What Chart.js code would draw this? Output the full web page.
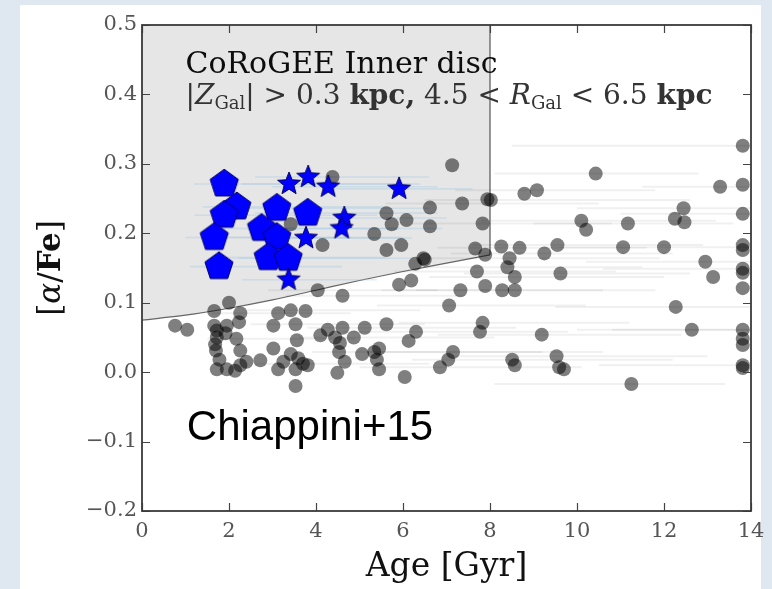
<!DOCTYPE html>
<html><head><meta charset="utf-8">
<script src="https://cdn.jsdelivr.net/npm/chart.js@4.4.1/dist/chart.umd.min.js"></script>
<style>
html,body{margin:0;padding:0;background:#dfe7f1;width:772px;height:589px;overflow:hidden}
#box{position:absolute;left:20px;top:5px;width:741px;height:584px;background:#fff}
canvas{display:block;position:absolute;left:0;top:0}
</style></head><body>
<div id="box"><canvas id="c" width="747" height="584"></canvas></div>
<script>
// ---------- data ----------
const xTickValues = [0, 2, 4, 6, 8, 10, 12, 14];
const xTickLabels = ['0', '2', '4', '6', '8', '10', '12', '14'];
const yTickValues = [-0.2, -0.1, 0.0, 0.1, 0.2, 0.3, 0.4, 0.5];
const yTickLabels = ['\u22120.2', '\u22120.1', '0.0', '0.1', '0.2', '0.3', '0.4', '0.5'];

// boundary of the shaded "inner disc" selection region
const regionAge     = [0, 1, 2, 3, 4, 5, 6, 7, 8];
const regionAlphaFe = [0.075, 0.082, 0.092, 0.104, 0.118, 0.132, 0.145, 0.157, 0.169];

// CoRoGEE stars (grey circles)
const grayAge = [7.13,10.43,13.81,13.81,13.29,4.38,9.08,8.79,7.94,8.02,7.36,6.62,5.62,6.08,5.74,5.34,6.62,7.83,
  13.81,12.45,12.25,12.47,10.10,10.21,11.17,13.81,13.81,12.00,11.06,9.55,9.25,8.68,8.26,7.89,7.66,8.45,8.40,8.57,
  8.57,8.28,7.89,7.70,7.32,7.06,6.47,6.50,6.28,6.19,5.91,5.96,5.62,4.15,4.04,4.61,3.42,13.81,13.81,13.81,12.95,
  13.13,9.62,12.27,12.64,13.81,13.81,13.81,13.81,13.81,9.19,7.83,7.77,9.53,9.59,9.70,8.51,8.57,11.25,7.15,7.04,
  6.85,6.04,6.30,6.13,5.62,5.45,5.34,5.40,5.45,5.06,5.12,4.87,4.61,4.55,4.44,4.27,4.10,4.53,4.66,4.49,3.53,3.53,
  3.70,3.81,3.59,3.25,3.13,3.42,3.42,3.76,3.13,3.53,3.02,3.56,3.02,2.72,2.40,2.26,2.23,2.17,2.26,2.26,2.14,2.00,
  1.66,1.66,1.72,1.70,1.78,1.72,1.95,1.92,1.95,0.76,1.04,1.72,1.68];
const grayAlphaFe = [0.298,0.286,0.326,0.270,0.267,0.281,0.262,0.257,0.249,0.248,0.243,0.237,0.229,0.219,0.213,0.199,0.210,0.214,
  0.228,0.236,0.221,0.216,0.218,0.205,0.214,0.183,0.176,0.180,0.180,0.183,0.171,0.179,0.181,0.169,0.178,0.164,0.151,0.137,
  0.118,0.118,0.124,0.145,0.118,0.096,0.164,0.162,0.156,0.132,0.126,0.183,0.176,0.183,0.118,0.110,0.213,0.149,0.143,0.121,0.159,
  0.137,0.142,0.094,0.061,0.061,0.048,0.039,0.010,0.006,0.054,0.071,0.058,0.023,0.007,0.004,0.018,0.010,-0.017,0.029,0.018,
  0.007,-0.007,0.058,0.045,0.069,0.034,0.029,0.018,0.004,0.026,0.064,0.050,0.064,0.042,0.050,0.061,0.053,0.029,0.015,-0.001,-0.020,0.004,
  0.012,0.010,0.020,0.015,0.004,0.026,0.089,0.088,0.085,0.069,0.067,0.046,0.034,0.017,0.015,0.085,0.072,0.048,0.031,0.010,0.002,0.100,
  0.088,0.067,0.050,0.031,0.018,0.004,0.004,0.056,0.067,0.067,0.061,0.060,0.040];

// age uncertainty bars of some grey stars (faint horizontal lines)
const grayErrAlphaFe = [0.326,0.286,0.267,0.248,0.262,0.243,0.236,0.218,0.214,0.214,0.183,0.180,0.179,0.171,0.164,0.159,
  0.151,0.142,0.137,0.145,0.118,0.118,0.094,0.096,0.110,0.118,0.071,0.054,0.061,0.058,0.064,0.050,0.029,0.029,0.023,0.018,
  0.007,0.012,0.089,0.069,0.085,0.048,-0.017,0.061,0.010,0.149,0.228];
const grayErrLo = [8.5,8.1,11.5,6.5,7.2,5.6,10.0,7.8,9.0,6.2,7.6,9.6,6.8,7.1,6.6,10.2,
  6.5,7.4,6.6,5.8,6.3,5.5,9.5,5.4,3.3,2.9,5.9,6.8,10.0,4.6,3.8,3.6,3.9,5.2,7.0,6.2,
  5.0,2.6,2.4,2.5,1.6,1.5,8.1,10.8,10.5,10.6,11.0];
const grayErrHi = [14,12.8,14,12.6,11.8,10.5,14,13.2,13.6,10.8,12.9,14,11.6,12.2,11.9,14,
  11.5,12.6,12.0,10.9,11.8,10.6,14,10.2,7.4,6.8,11.2,12.4,14,9.8,8.6,8.1,9.2,10.6,13.0,12.2,
  10.1,6.6,6.4,6.5,4.8,4.9,13.4,14,14,14,14];

// Chiappini+15 young alpha-rich stars (pentagons)
const pentAge     = [1.89, 2.18, 1.89, 1.66, 1.77, 3.10, 3.81, 2.75, 3.10, 2.90, 3.36];
const pentAlphaFe = [0.271, 0.238, 0.226, 0.194, 0.152, 0.236, 0.229, 0.207, 0.194, 0.165, 0.164];
const pentAgeLo   = [1.2, 1.4, 1.2, 1.0, 1.1, 2.0, 2.6, 1.8, 2.0, 1.9, 2.2];
const pentAgeHi   = [6.4, 5.6, 5.4, 4.8, 4.6, 6.6, 6.8, 5.9, 6.0, 5.6, 6.2];

// Chiappini+15 (star symbols)
const starAge     = [3.38, 3.82, 4.28, 4.65, 4.59, 3.77, 3.37, 5.91];
const starAlphaFe = [0.271, 0.281, 0.267, 0.222, 0.207, 0.193, 0.133, 0.264];
const starAgeLo   = [2.3, 2.6, 3.0, 3.2, 3.1, 2.6, 2.3, 4.2];
const starAgeHi   = [6.0, 6.6, 6.8, 7.0, 6.9, 6.2, 5.4, 7.6];

// ---------- marker images ----------
function polygonMarker(nPts, R, inner, fill, stroke) {
  const size = Math.ceil(2 * R + 4);
  const c = document.createElement('canvas');
  c.width = c.height = size;
  const g = c.getContext('2d');
  const cx = size / 2, cy = size / 2;
  g.beginPath();
  const steps = inner ? nPts * 2 : nPts;
  for (let k = 0; k < steps; k++) {
    const r = inner && (k % 2 === 1) ? R * inner : R;
    const a = -Math.PI / 2 + k * 2 * Math.PI / steps;
    const px = cx + r * Math.cos(a), py = cy + r * Math.sin(a);
    k === 0 ? g.moveTo(px, py) : g.lineTo(px, py);
  }
  g.closePath();
  g.fillStyle = fill; g.fill();
  g.lineWidth = 1; g.strokeStyle = stroke; g.stroke();
  return c;
}
const pentImg = polygonMarker(5, 14.8, 0, '#0000ff', '#000060');
const starImg = polygonMarker(5, 12, 0.43, '#0000ff', '#000060');

const toPts = (xs, ys) => xs.map((x, i) => ({ x: x, y: ys[i] }));

// ---------- plugins ----------
const errorBars = {
  id: 'errorBars',
  afterDatasetDraw(chart, args) {
    if (args.index !== 1) return;
    const { ctx, scales: { x, y } } = chart;
    ctx.save();
    const draw = (vals, lo, hi) => {
      vals.forEach((v, i) => {
        const py = y.getPixelForValue(v);
        ctx.beginPath();
        ctx.moveTo(x.getPixelForValue(lo[i]), py);
        ctx.lineTo(x.getPixelForValue(hi[i]), py);
        ctx.stroke();
      });
    };
    ctx.lineWidth = 2;
    ctx.strokeStyle = 'rgba(0,0,0,0.06)';
    draw(grayErrAlphaFe, grayErrLo, grayErrHi);
    ctx.lineWidth = 1.6;
    ctx.strokeStyle = 'rgba(140,190,225,0.28)';
    draw(pentAlphaFe, pentAgeLo, pentAgeHi);
    draw(starAlphaFe, starAgeLo, starAgeHi);
    ctx.restore();
  }
};

function drawRuns(ctx, runs, x0, y0) {
  let x = x0;
  runs.forEach(r => {
    ctx.font = r.font;
    ctx.fillText(r.t, x, y0 + (r.dy || 0));
    x += ctx.measureText(r.t).width;
  });
}

const frameAndText = {
  id: 'frameAndText',
  afterDraw(chart) {
    const { ctx, chartArea: a, scales: { x, y } } = chart;
    ctx.save();
    // inward ticks
    ctx.strokeStyle = '#444'; ctx.lineWidth = 1.2;
    const tl = 8;
    xTickValues.forEach(v => {
      const px = Math.round(x.getPixelForValue(v)) + 0.5;
      ctx.beginPath();
      ctx.moveTo(px, a.bottom); ctx.lineTo(px, a.bottom - tl);
      ctx.moveTo(px, a.top); ctx.lineTo(px, a.top + tl);
      ctx.stroke();
    });
    yTickValues.forEach(v => {
      const py = Math.round(y.getPixelForValue(v)) + 0.5;
      ctx.beginPath();
      ctx.moveTo(a.left, py); ctx.lineTo(a.left + tl, py);
      ctx.moveTo(a.right, py); ctx.lineTo(a.right - tl, py);
      ctx.stroke();
    });
    // frame
    ctx.strokeStyle = '#3a3a3a'; ctx.lineWidth = 1.8;
    ctx.strokeRect(a.left, a.top, a.right - a.left, a.bottom - a.top);

    // annotation text
    ctx.textBaseline = 'alphabetic';
    ctx.textAlign = 'left';
    const F = '"DejaVu Serif", serif';
    const ax = x.getPixelForValue(1.0);
    ctx.fillStyle = '#0d0d0d';
    ctx.font = '30px ' + F;
    ctx.fillText('CoRoGEE Inner disc', ax, y.getPixelForValue(0.431));
    ctx.fillStyle = '#333';
    const s = 28, sub = 18;
    drawRuns(ctx, [
      { t: '|', font: s + 'px ' + F },
      { t: 'Z', font: 'italic ' + s + 'px ' + F },
      { t: 'Gal', font: sub + 'px ' + F, dy: 5 },
      { t: '| > 0.3 ', font: s + 'px ' + F },
      { t: 'kpc,', font: 'bold ' + s + 'px ' + F },
      { t: ' 4.5 < ', font: s + 'px ' + F },
      { t: 'R', font: 'italic ' + s + 'px ' + F },
      { t: 'Gal', font: sub + 'px ' + F, dy: 5 },
      { t: ' < 6.5 ', font: s + 'px ' + F },
      { t: 'kpc', font: 'bold ' + s + 'px ' + F }
    ], ax, y.getPixelForValue(0.386));

    ctx.fillStyle = '#000';
    ctx.font = '42px "Liberation Sans", Arial, sans-serif';
    ctx.fillText('Chiappini+15', x.getPixelForValue(1.03), y.getPixelForValue(-0.098));

    // y-axis title [α/Fe]
    ctx.save();
    ctx.translate(a.left - 90, (a.top + a.bottom) / 2);
    ctx.rotate(-Math.PI / 2);
    ctx.fillStyle = '#111';
    const ys = 31;
    const runs = [
      { t: '[', font: ys + 'px ' + F },
      { t: '\u03b1', font: 'italic ' + ys + 'px ' + F },
      { t: '/', font: ys + 'px ' + F },
      { t: 'Fe', font: 'bold ' + ys + 'px ' + F },
      { t: ']', font: ys + 'px ' + F }
    ];
    let w = 0;
    runs.forEach(r => { ctx.font = r.font; w += ctx.measureText(r.t).width; });
    ctx.textBaseline = 'middle';
    drawRuns(ctx, runs, -w / 2, 0);
    ctx.restore();
    ctx.restore();
  }
};

// ---------- chart ----------
new Chart(document.getElementById('c'), {
  type: 'scatter',
  data: {
    datasets: [
      {
        type: 'line',
        order: 10,
        data: toPts(regionAge, regionAlphaFe),
        showLine: true,
        fill: 'end',
        backgroundColor: '#e6e6e6',
        borderColor: '#666',
        borderWidth: 1.2,
        pointRadius: 0,
        cubicInterpolationMode: 'monotone'
      },
      {
        type: 'line',
        order: 9,
        data: [{ x: regionAge[regionAge.length - 1], y: regionAlphaFe[regionAlphaFe.length - 1] },
               { x: regionAge[regionAge.length - 1], y: 0.5 }],
        showLine: true,
        fill: false,
        borderColor: '#555',
        borderWidth: 1.2,
        pointRadius: 0
      },
      {
        order: 3,
        data: toPts(grayAge, grayAlphaFe),
        backgroundColor: 'rgba(0,0,0,0.5)',
        borderWidth: 0,
        pointRadius: 7
      },
      {
        order: 2,
        data: toPts(pentAge, pentAlphaFe),
        pointStyle: pentImg,
        pointRadius: 15
      },
      {
        order: 1,
        data: toPts(starAge, starAlphaFe),
        pointStyle: starImg,
        pointRadius: 12
      }
    ]
  },
  options: {
    responsive: false,
    animation: false,
    events: [],
    layout: { padding: { top: 20, right: 5, left: 0, bottom: 0 } },
    plugins: { legend: { display: false }, tooltip: { enabled: false } },
    scales: {
      x: {
        type: 'linear', min: 0, max: 14,
        afterBuildTicks(scale) { scale.ticks = xTickValues.map(v => ({ value: v })); },
        ticks: {
          callback: (v) => xTickLabels[xTickValues.indexOf(v)],
          font: { family: '"DejaVu Serif", serif', size: 21 },
          color: '#555', padding: 8, maxRotation: 0, autoSkip: false
        },
        grid: { display: false, drawTicks: false },
        border: { display: false },
        title: {
          display: true, text: 'Age [Gyr]',
          font: { family: '"DejaVu Serif", serif', size: 33 },
          color: '#111', padding: { top: 0, bottom: 2 }
        },
        afterFit(scale) { scale.height = 78; scale.paddingLeft = 0; scale.paddingRight = 0; }
      },
      y: {
        type: 'linear', min: -0.2, max: 0.5,
        afterBuildTicks(scale) { scale.ticks = yTickValues.map(v => ({ value: v })); },
        ticks: {
          callback: (v) => yTickLabels[Math.round((v + 0.2) * 10)],
          font: { family: '"DejaVu Serif", serif', size: 21 },
          color: '#555', padding: 5, autoSkip: false
        },
        grid: { display: false, drawTicks: false },
        border: { display: false },
        afterFit(scale) { scale.width = 122; }
      }
    }
  },
  plugins: [errorBars, frameAndText]
});
</script>
</body></html>
